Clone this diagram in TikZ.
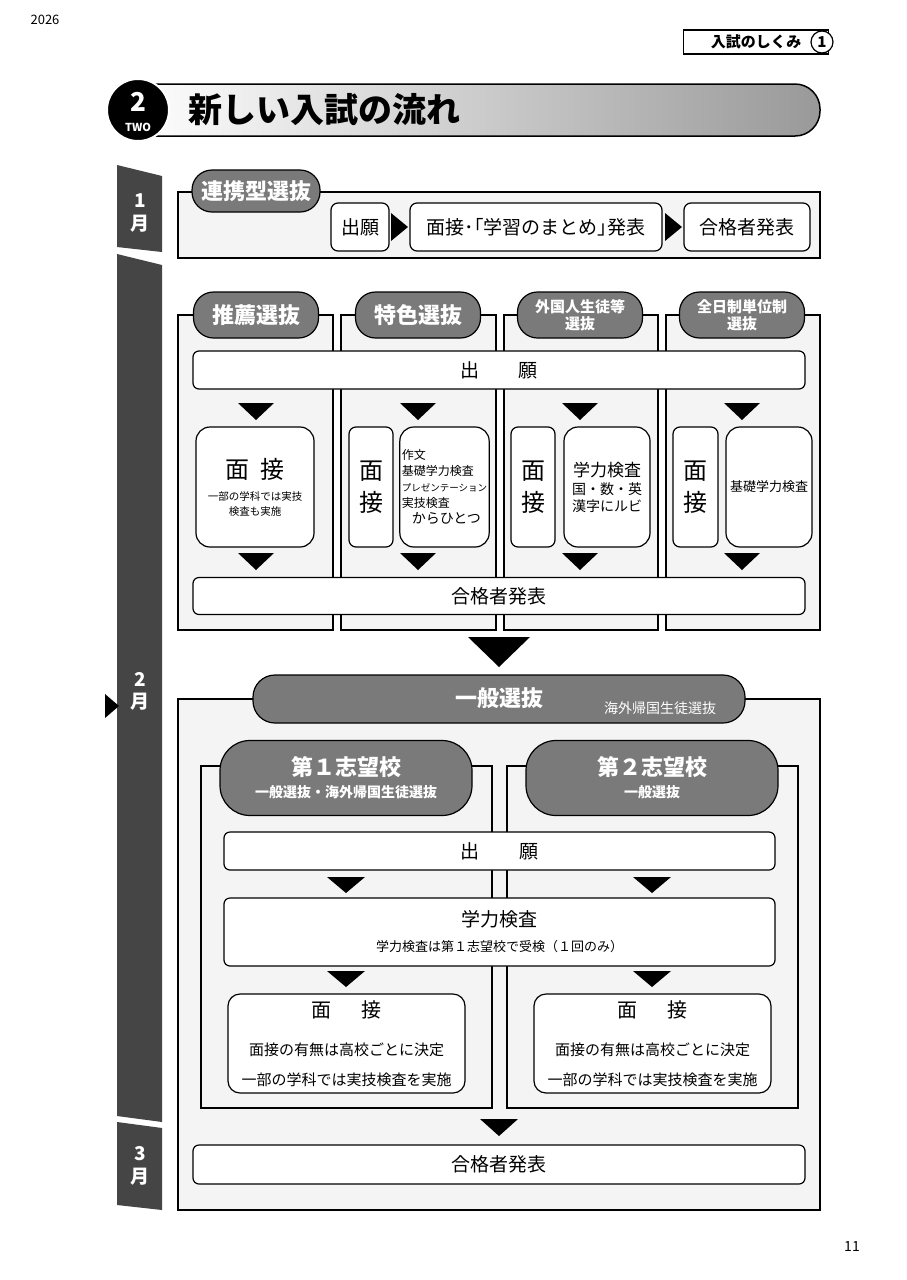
\documentclass[tikz,border=0pt]{standalone}
\usepackage{fontspec}
\setmainfont{Noto Sans CJK JP}
\usetikzlibrary{shapes.geometric}
\definecolor{pan}{HTML}{F4F4F4}
\definecolor{pill}{HTML}{7A7A7A}
\definecolor{barc}{HTML}{454545}
\newcommand{\fsz}[1]{\fontsize{#1}{#1}\selectfont}
\begin{document}
\begin{tikzpicture}[x=1pt,y=-1pt,
 panel/.style={draw=black,line width=1.2pt,fill=pan},
 pl/.style={draw=black,line width=1.2pt,fill=pill,rounded corners=20pt,text=white,font=\bfseries\fontsize{22}{24}\selectfont,align=center},
 bx/.style={draw=black,line width=1.2pt,fill=white,rounded corners=7pt},
 bar/.style={draw=black,line width=1.2pt,fill=white,rounded corners=6pt,font=\fontsize{19}{21}\selectfont},
 lbl/.style={font=\fontsize{19}{21}\selectfont,align=center},
 mon/.style={text=white,font=\bfseries\fontsize{19}{22}\selectfont,align=center},
]
\useasboundingbox (0,0) rectangle (906,1280);
\node[font=\fontsize{13}{14}\selectfont] (yr) at (45,20) {2026};
\node[font=\itshape\fontsize{14}{15}\selectfont] (pg) at (852,1246) {11};
% top-right tag
\node[draw,line width=1.2pt,fill=white,minimum width=145pt,minimum height=24pt,font=\bfseries\fontsize{15}{16}\selectfont,anchor=west,inner sep=3pt] (tag) at (683,42) {入試のしくみ\hspace{24pt}};
\node[draw,circle,line width=1.2pt,fill=white,minimum size=22pt,inner sep=0pt,font=\bfseries\fontsize{15}{16}\selectfont] (tagn) at (822,42) {1};
% banner
\path[shading=axis,left color=white,right color=black!40,draw=black,line width=1.5pt,rounded corners=25pt] (130,84) rectangle (820,136);
\node[circle,fill=black,draw=white,line width=2pt,minimum size=62pt] (num) at (138,110) {};
\node[text=white,font=\bfseries\fontsize{26}{26}\selectfont] (n2) at (138,102) {2};
\node[text=white,font=\bfseries\fontsize{11}{11}\selectfont] (nt) at (138,127) {TWO};
\node[anchor=west,font=\bfseries\fontsize{34}{36}\selectfont] (title) at (185,110) {新しい入試の流れ};
% left bar
\fill[barc] (117,165) -- (162,176) -- (162,252) -- (117,247) -- cycle;
\fill[barc] (117,254) -- (162,265) -- (162,1122) -- (117,1116) -- cycle;
\fill[barc] (117,1122) -- (162,1128) -- (162,1210) -- (117,1205) -- cycle;
\node[mon] (m1a) at (140,201) {1};
\node[mon] (m1b) at (140,224) {月};
\node[mon] (m2a) at (140,679) {2};
\node[mon] (m2b) at (140,702) {月};
\node[mon] (m3a) at (140,1154) {3};
\node[mon] (m3b) at (140,1177) {月};
\fill (105,694) -- (119,706) -- (105,718) -- cycle;
% renkei
\draw[panel] (178,192) rectangle (820,258);
\node[pl,minimum width=128pt,minimum height=42pt] (renkei) at (256,191) {連携型選抜};
\node[bx,minimum width=58pt,minimum height=48pt,lbl] (r1) at (360,227) {出願};
\node[bx,minimum width=252pt,minimum height=48pt,lbl] (r2) at (536,227) {面接･｢学習のまとめ｣発表};
\node[bx,minimum width=126pt,minimum height=48pt,lbl] (r3) at (747,227) {合格者発表};
\fill (391,213) -- (408,227) -- (391,241) -- cycle;
\fill (665,213) -- (682,227) -- (665,241) -- cycle;
% four columns
\foreach \a/\b in {178/333,341/496,504/658,666/820}{\draw[panel] (\a,315) rectangle (\b,630);}
\node[pl,minimum width=125pt,minimum height=46pt] (p1) at (256,315) {推薦選抜};
\node[pl,minimum width=125pt,minimum height=46pt] (p2) at (418,315) {特色選抜};
\node[pl,minimum width=125pt,minimum height=46pt,font=\bfseries\fontsize{15}{17}\selectfont] (p3) at (580,315) {外国人生徒等\\選抜};
\node[pl,minimum width=125pt,minimum height=46pt,font=\bfseries\fontsize{15}{17}\selectfont] (p4) at (742,315) {全日制単位制\\選抜};
\node[bar,minimum width=612pt,minimum height=38pt] (sh1) at (499,370) {出\hspace{40pt}願};
\foreach \x in {256,418,580,742}{\fill (\x-18,403) -- (\x+18,403) -- (\x,420) -- cycle; \fill (\x-18,553) -- (\x+18,553) -- (\x,570) -- cycle;}
\node[bx,rounded corners=14pt,minimum width=118pt,minimum height=120pt,align=center] (c1) at (255,487) {\fsz{24}面\hspace{12pt}接\\[10pt]\fsz{10.5}一部の学科では実技\\[3pt]\fsz{10.5}検査も実施};
\node[bx,minimum width=44pt,minimum height=120pt,align=center,font=\fontsize{24}{32}\selectfont] (c2a) at (371,487) {面\\接};
\node[bx,rounded corners=14pt,minimum width=87pt,minimum height=120pt,inner sep=2pt,align=left,font=\fontsize{12}{16}\selectfont] (c2b) at (444.5,487) {作文\\基礎学力検査\\\fsz{9.5}プレゼンテーション\\実技検査\\\hspace{10pt}\fsz{14}からひとつ};
\node[bx,minimum width=44pt,minimum height=120pt,align=center,font=\fontsize{24}{32}\selectfont] (c3a) at (533,487) {面\\接};
\node[bx,rounded corners=14pt,minimum width=86pt,minimum height=120pt,align=center] (c3b) at (607,487) {\fsz{17}学力検査\\[4pt]\fsz{14}国・数・英\\[3pt]\fsz{14}漢字にルビ};
\node[bx,minimum width=45pt,minimum height=120pt,align=center,font=\fontsize{24}{32}\selectfont] (c4a) at (695.5,487) {面\\接};
\node[bx,rounded corners=14pt,minimum width=86pt,minimum height=120pt,font=\fontsize{13}{15}\selectfont] (c4b) at (769,487) {基礎学力検査};
\node[bar,minimum width=612pt,minimum height=37pt] (gk1) at (499,596) {合格者発表};
\fill (468,637) -- (530,637) -- (499,667) -- cycle;
% general
\draw[panel] (178,699) rectangle (820,1210);
\node[pl,minimum width=492pt,minimum height=48pt,rounded corners=22pt] (ip) at (499,699) {};
\node[text=white,font=\bfseries\fontsize{22}{24}\selectfont] (ipt) at (499,698) {一般選抜};
\node[text=white,font=\fontsize{14}{16}\selectfont] (ips) at (660,708) {海外帰国生徒選抜};
\draw[panel] (201,766) rectangle (492,1108);
\draw[panel] (507,766) rectangle (798,1108);
\node[pl,minimum width=252pt,minimum height=75pt,rounded corners=30pt,align=center] (s1) at (346,778) {第１志望校\\[-2pt]\fsz{14}一般選抜・海外帰国生徒選抜};
\node[pl,minimum width=252pt,minimum height=75pt,rounded corners=30pt,align=center] (s2) at (652,778) {第２志望校\\[-2pt]\fsz{14}一般選抜};
\node[bar,minimum width=551pt,minimum height=38pt] (sh2) at (499.5,851) {出\hspace{40pt}願};
\foreach \x in {346,652}{\fill (\x-19,877) -- (\x+19,877) -- (\x,893) -- cycle; \fill (\x-19,971) -- (\x+19,971) -- (\x,987) -- cycle;}
\node[bar,minimum width=551pt,minimum height=68pt,align=center] (gr) at (499.5,932) {学力検査\\[4pt]\fsz{13}学力検査は第１志望校で受検（１回のみ）};
\node[bx,rounded corners=12pt,minimum width=237pt,minimum height=99pt,align=center,font=\fontsize{15}{30}\selectfont] (i1) at (346.5,1043.5) {\fsz{20}面\hspace{30pt}接\\[8pt]面接の有無は高校ごとに決定\\一部の学科では実技検査を実施};
\node[bx,rounded corners=12pt,minimum width=237pt,minimum height=99pt,align=center,font=\fontsize{15}{30}\selectfont] (i2) at (652.5,1043.5) {\fsz{20}面\hspace{30pt}接\\[8pt]面接の有無は高校ごとに決定\\一部の学科では実技検査を実施};
\fill (480,1119) -- (518,1119) -- (499,1136) -- cycle;
\node[bar,minimum width=612pt,minimum height=39pt] (gk2) at (499,1164.5) {合格者発表};
\end{tikzpicture}
\end{document}
